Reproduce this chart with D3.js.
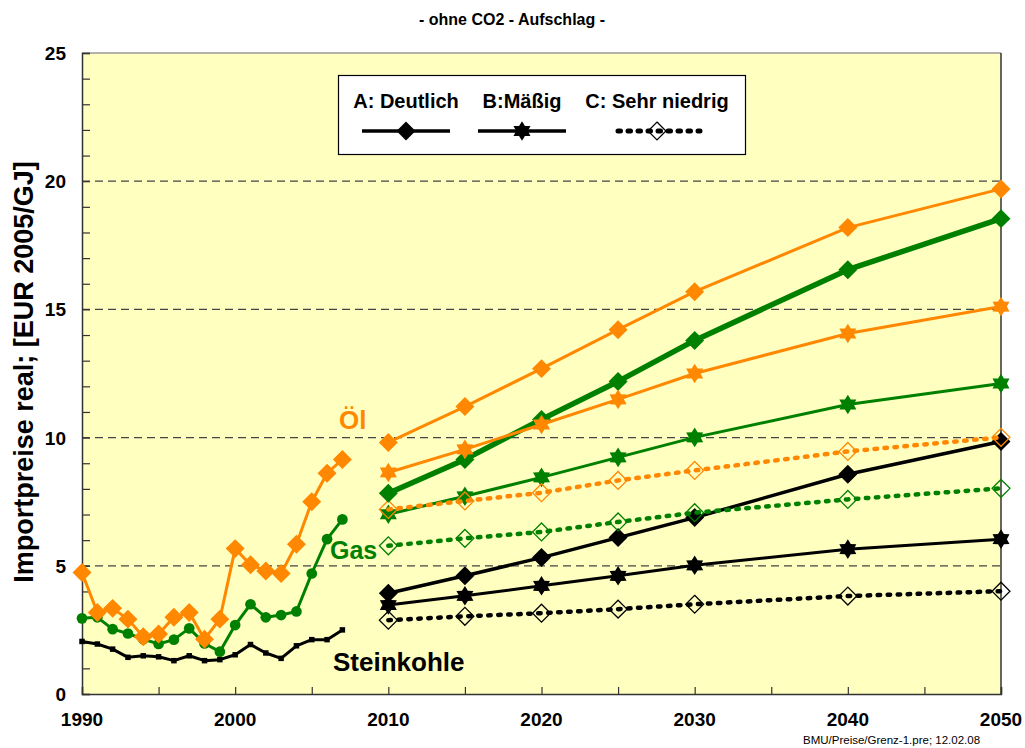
<!DOCTYPE html>
<html>
<head>
<meta charset="utf-8">
<script src="https://cdn.jsdelivr.net/npm/d3@7"></script>
<style>
  body { margin: 0; background: #fff; }
  text { font-family: "Liberation Sans", Arial, sans-serif; font-weight: bold; }
</style>
</head>
<body>
<div class="chart"></div>
<script>
var svgWidth = 1025;
var svgHeight = 748;

var margin = { top: 53, right: 24, bottom: 54, left: 82 };
var width = 1001 - margin.left;
var height = 694 - margin.top;

// historical prices 1990-2007
var histYears = d3.range(1990, 2008);
var oilHist = [4.74, 3.18, 3.34, 2.92, 2.23, 2.34, 2.99, 3.18, 2.14, 2.92, 5.67, 5.04, 4.80, 4.70, 5.84, 7.50, 8.61, 9.15];
var gasHist = [2.95, 2.99, 2.53, 2.36, 2.14, 1.95, 2.12, 2.56, 1.97, 1.65, 2.69, 3.50, 2.99, 3.08, 3.22, 4.70, 6.04, 6.81];
var coalHist = [2.05, 1.95, 1.75, 1.43, 1.49, 1.45, 1.30, 1.49, 1.30, 1.34, 1.53, 1.93, 1.60, 1.39, 1.88, 2.12, 2.12, 2.50];

// scenarios 2010-2050
var scenYears = [2010, 2015, 2020, 2025, 2030, 2040, 2050];
var oilA = [9.81, 11.21, 12.69, 14.21, 15.69, 18.19, 19.70];
var oilB = [8.64, 9.54, 10.51, 11.49, 12.50, 14.06, 15.11];
var oilC = [7.20, 7.53, 7.85, 8.33, 8.72, 9.46, 10.01];
var gasA = [7.83, 9.15, 10.71, 12.19, 13.79, 16.55, 18.54];
var gasB = [7.01, 7.71, 8.45, 9.23, 10.01, 11.29, 12.11];
var gasC = [5.78, 6.07, 6.32, 6.71, 7.07, 7.59, 8.02];
var coalA = [3.93, 4.61, 5.32, 6.10, 6.88, 8.57, 9.85];
var coalB = [3.47, 3.83, 4.22, 4.61, 5.02, 5.65, 6.04];
var coalC = [2.88, 3.03, 3.15, 3.31, 3.50, 3.82, 4.01];

var yTicks = [0, 5, 10, 15, 20, 25];
var xTickLabels = [1990, 2000, 2010, 2020, 2030, 2040, 2050];
var legendNames = ["A: Deutlich", "B:Mäßig", "C: Sehr niedrig"];

var orange = "#ff8800";
var green = "#008000";

var svg = d3.select(".chart").append("svg")
  .attr("width", svgWidth)
  .attr("height", svgHeight);

var chartGroup = svg.append("g")
  .attr("transform", `translate(${margin.left}, ${margin.top})`);

var x = d3.scaleLinear().domain([1990, 2050]).range([0, width]);
var y = d3.scaleLinear().domain([0, 25]).range([height, 0]);

// custom marker shapes
var squareDiamond = {
  draw: function(ctx, size) {
    var r = Math.sqrt(size / 2);
    ctx.moveTo(0, -r); ctx.lineTo(r, 0); ctx.lineTo(0, r); ctx.lineTo(-r, 0); ctx.closePath();
  }
};
var hexStar = {
  draw: function(ctx, size) {
    var R = Math.sqrt(size) * 0.62, r = R * 0.6;
    for (var i = 0; i < 12; i++) {
      var a = Math.PI / 6 * i - Math.PI / 2;
      var rr = i % 2 ? r : R;
      if (i === 0) ctx.moveTo(rr * Math.cos(a), rr * Math.sin(a));
      else ctx.lineTo(rr * Math.cos(a), rr * Math.sin(a));
    }
    ctx.closePath();
  }
};

// plot background
chartGroup.append("rect")
  .attr("width", width).attr("height", height)
  .attr("fill", "#ffffc0");

// dashed gridlines
chartGroup.selectAll(".grid")
  .data([5, 10, 15, 20])
  .enter().append("line")
  .attr("x1", 0).attr("x2", width)
  .attr("y1", d => y(d)).attr("y2", d => y(d))
  .attr("stroke", "#444").attr("stroke-width", 1.2)
  .attr("stroke-dasharray", "8,5");

// frame
chartGroup.append("line").attr("x1", 0).attr("x2", width).attr("y1", 0).attr("y2", 0)
  .attr("stroke", "#999").attr("stroke-width", 1.5);
chartGroup.append("line").attr("x1", width).attr("x2", width).attr("y1", 0).attr("y2", height)
  .attr("stroke", "#333").attr("stroke-width", 1.5);

// axes with inward ticks
var leftAxis = d3.axisLeft(y).tickValues(d3.range(0, 26)).tickSize(-8).tickFormat("");
var bottomAxis = d3.axisBottom(x).tickValues(d3.range(1990, 2051, 5)).tickSize(-7).tickFormat("");

var yAxis = chartGroup.append("g").call(leftAxis);
var xAxis = chartGroup.append("g").attr("transform", `translate(0, ${height})`).call(bottomAxis);
[yAxis, xAxis].forEach(function(ax) {
  ax.select(".domain").attr("stroke", "#333").attr("stroke-width", 1.5);
  ax.selectAll(".tick line").attr("stroke", "#333").attr("stroke-width", 1.2);
});

chartGroup.selectAll(".ylab")
  .data(yTicks).enter().append("text")
  .attr("x", -16).attr("y", d => y(d) + 7)
  .attr("text-anchor", "end").attr("font-size", "19px")
  .text(d => d);

chartGroup.selectAll(".xlab")
  .data(xTickLabels).enter().append("text")
  .attr("x", d => x(d)).attr("y", height + 32)
  .attr("text-anchor", "middle").attr("font-size", "19px")
  .text(d => d);

// line helpers
var line = d3.line().x(d => x(d[0])).y(d => y(d[1]));

function drawSeries(years, values, color, lw, dash, marker, size, open) {
  var pts = years.map((yr, i) => [yr, values[i]]);
  var p = chartGroup.append("path")
    .datum(pts)
    .attr("d", line)
    .attr("fill", "none")
    .attr("stroke", color)
    .attr("stroke-width", lw)
    .attr("stroke-linejoin", "round");
  if (dash) p.attr("stroke-dasharray", dash).attr("stroke-linecap", "round");
  chartGroup.selectAll(null)
    .data(pts).enter().append("path")
    .attr("transform", d => `translate(${x(d[0])}, ${y(d[1])})`)
    .attr("d", d3.symbol().type(marker).size(size))
    .attr("fill", open ? "none" : color)
    .attr("stroke", color)
    .attr("stroke-width", open ? 1.3 : 0);
}

// historical
drawSeries(histYears, coalHist, "#000", 3, null, d3.symbolSquare, 30, false);
drawSeries(histYears, gasHist, green, 3, null, d3.symbolCircle, 90, false);
drawSeries(histYears, oilHist, orange, 3, null, squareDiamond, 180, false);

// scenarios
var dots = "2.5,7.5";
drawSeries(scenYears, coalC, "#000", 4.5, dots, squareDiamond, 160, true);
drawSeries(scenYears, coalB, "#000", 3, null, hexStar, 250, false);
drawSeries(scenYears, coalA, "#000", 3.5, null, squareDiamond, 180, false);
drawSeries(scenYears, gasC, green, 4.5, dots, squareDiamond, 160, true);
drawSeries(scenYears, gasB, green, 3, null, hexStar, 250, false);
drawSeries(scenYears, oilC, orange, 4.5, dots, squareDiamond, 160, true);
drawSeries(scenYears, gasA, green, 5.5, null, squareDiamond, 180, false);
drawSeries(scenYears, oilB, orange, 3, null, hexStar, 250, false);
drawSeries(scenYears, oilA, orange, 3, null, squareDiamond, 180, false);

// series labels
svg.append("text").attr("x", 339).attr("y", 429).attr("font-size", "26px").attr("fill", orange).text("Öl");
svg.append("text").attr("x", 330).attr("y", 559).attr("font-size", "25px").attr("fill", green).text("Gas");
svg.append("text").attr("x", 333).attr("y", 671).attr("font-size", "26px").attr("fill", "#000").text("Steinkohle");

// legend
var legend = svg.append("g");
legend.append("rect")
  .attr("x", 338.5).attr("y", 75.5).attr("width", 407).attr("height", 79)
  .attr("fill", "#fff").attr("stroke", "#000").attr("stroke-width", 1.2);
var legX = [406, 522, 657];
var legTypes = [
  { marker: squareDiamond, dash: null, lw: 3.5, open: false, size: 180, x1: 362, x2: 450 },
  { marker: hexStar, dash: null, lw: 3.5, open: false, size: 250, x1: 478, x2: 566 },
  { marker: squareDiamond, dash: "2.5,7.5", lw: 5, open: true, size: 160, x1: 618, x2: 700 }
];
legendNames.forEach(function(name, i) {
  var t = legTypes[i];
  legend.append("text")
    .attr("x", legX[i]).attr("y", 108)
    .attr("text-anchor", "middle").attr("font-size", "20px")
    .text(name);
  var l = legend.append("line")
    .attr("x1", t.x1).attr("x2", t.x2).attr("y1", 131).attr("y2", 131)
    .attr("stroke", "#000").attr("stroke-width", t.lw);
  if (t.dash) l.attr("stroke-dasharray", t.dash).attr("stroke-linecap", "round");
  legend.append("path")
    .attr("transform", `translate(${legX[i]}, 131)`)
    .attr("d", d3.symbol().type(t.marker).size(t.size))
    .attr("fill", t.open ? "none" : "#000")
    .attr("stroke", "#000").attr("stroke-width", t.open ? 1.3 : 0);
});

// title, axis label, footnote
svg.append("text")
  .attr("x", 512).attr("y", 25)
  .attr("text-anchor", "middle").attr("font-size", "16px")
  .text("- ohne CO2 - Aufschlag -");

svg.append("text")
  .attr("transform", "translate(33, 372) rotate(-90)")
  .attr("text-anchor", "middle").attr("font-size", "27px")
  .text("Importpreise real; [EUR 2005/GJ]");

svg.append("text")
  .attr("x", 803).attr("y", 744)
  .attr("font-size", "11.5px")
  .style("font-weight", "normal")
  .text("BMU/Preise/Grenz-1.pre; 12.02.08");
</script>
</body>
</html>
